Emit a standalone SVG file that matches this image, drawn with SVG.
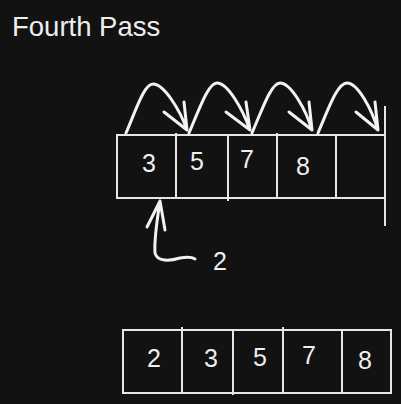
<svg xmlns="http://www.w3.org/2000/svg" width="401" height="404" viewBox="0 0 401 404">
<style>
.box{fill:none;stroke:#e6e6e6;stroke-width:2}
.t{font-family:"Liberation Sans",Arial,sans-serif;fill:#eeeeee;font-size:25px;text-anchor:middle}
.title{font-family:"Liberation Sans",Arial,sans-serif;fill:#eeeeee;font-size:27.5px}
.c{fill:none;stroke:#f2f2f2;stroke-width:3;stroke-linecap:round;stroke-linejoin:round}
</style>
<rect width="401" height="404" fill="#121212"/>
<text class="title" x="12" y="36">Fourth Pass</text>
<g id="top-array">
<rect class="box" x="117" y="135" width="268" height="63"/>
<line class="box" x1="176" y1="133" x2="176" y2="198"/>
<line class="box" x1="228" y1="135" x2="228" y2="201"/>
<line class="box" x1="277" y1="133" x2="277" y2="198"/>
<line class="box" x1="336" y1="135" x2="336" y2="198"/>
<line class="box" x1="385" y1="106" x2="385" y2="226"/>
<text class="t" x="149" y="172">3</text>
<text class="t" x="197" y="170">5</text>
<text class="t" x="247" y="168">7</text>
<text class="t" x="303" y="175">8</text>
</g>
<g id="connectors">
<path class="c" d="M126 133 C136 110 144 84 153 84 C164 84 180 110 187 130 M164 112 L187 130 L184 102"/>
<path class="c" d="M189 133 C199 110 208 83 217 83 C228 83 243 110 250 130 M226 112 L250 130 L246 102"/>
<path class="c" d="M252 133 C262 110 271 83 280 83 C291 83 306 110 312 130 M289 112 L312 130 L309 102"/>
<path class="c" d="M318 133 C328 110 337 83 347 83 C358 83 372 110 378 130 M356 112 L378 130 L375 102"/>
<path class="c" d="M160 201 C157 220 154 240 155 253 C157 262 170 261 180 258 C186 257 192 257 195 259 M147 227 L160 201 L165 230"/>
<text class="t" x="220" y="270">2</text>
</g>
<g id="bottom-array">
<rect class="box" x="123" y="330" width="268" height="63"/>
<line class="box" x1="182" y1="327" x2="182" y2="393"/>
<line class="box" x1="233" y1="330" x2="233" y2="395"/>
<line class="box" x1="283" y1="327" x2="283" y2="393"/>
<line class="box" x1="342" y1="330" x2="342" y2="393"/>
<text class="t" x="154" y="367">2</text>
<text class="t" x="211" y="367">3</text>
<text class="t" x="260" y="366">5</text>
<text class="t" x="309" y="364">7</text>
<text class="t" x="365" y="369">8</text>
</g>
</svg>
